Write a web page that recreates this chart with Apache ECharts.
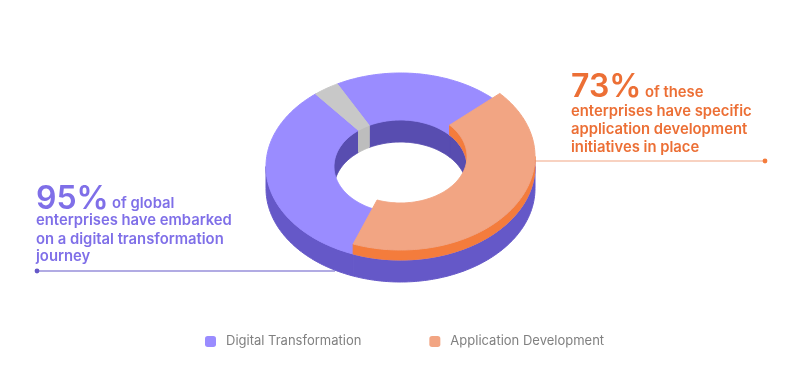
<!DOCTYPE html>
<html>
<head>
<meta charset="utf-8">
<script src="https://cdn.jsdelivr.net/npm/echarts@6/dist/echarts.min.js"></script>
<style>
    html, body { margin: 0; padding: 0; background: #fff; }
    #chart { width: 801px; height: 371px; }
</style>
</head>
<body>
<div id="chart"></div>
<script>
    // share of the ring as drawn, clockwise from the top right corner of the orange slice
    const sliceNames = ['Application Development', 'Digital Transformation', 'Other', 'Digital Transformation'];
    const sliceValues = [42.5, 33.4, 3.1, 21];
    const legendNames = ['Digital Transformation', 'Application Development'];
    const leftStat = '95%';
    const leftLines = ['of global', 'enterprises have embarked', 'on a digital transformation', 'journey'];
    const rightStat = '73%';
    const rightLines = ['of these', 'enterprises have specific', 'application development', 'initiatives in place'];

    const START = -42.4;
    const cx = 400.5, cy = 166.5;
    const RX = 134.5, RY = 93.5, rx = 66.5, ry = 46.5;
    const DEPTH = 22, LIFT = 10;
    const FONT = 'Inter';

    const purple = '#9a8cff', purpleSide = '#6558c8', purpleWall = '#584db0';
    const grey = '#c8c8c8', greyWall = '#bdbdbd';
    const orange = '#f2a583', orangeSide = '#f47c3c';
    const purpleText = '#7f6fe8', orangeText = '#ec6f35';

    function sliceRange(i) {
        let a = START;
        for (let k = 0; k < i; k++) a += sliceValues[k] * 3.6;
        return [a, a + sliceValues[i] * 3.6];
    }

    function arc(a, b, w, h, y0) {
        let pts = [];
        let n = Math.max(2, Math.ceil(Math.abs(b - a)));
        for (let i = 0; i <= n; i++) {
            let t = (a + (b - a) * i / n) * Math.PI / 180;
            pts.push([cx + w * Math.cos(t), y0 + h * Math.sin(t)]);
        }
        return pts;
    }

    function poly(points, color, z2) {
        return {
            type: 'polygon',
            z2: z2,
            shape: {points: points},
            style: {fill: color, stroke: color, lineWidth: 1}
        };
    }

    function band(a, b, w, h, y0, height, color, z2) {
        let upper = arc(a, b, w, h, y0);
        let lower = arc(b, a, w, h, y0 + height);
        return poly(upper.concat(lower), color, z2);
    }

    function topFace(a, b, y0, color, z2) {
        return poly(arc(a, b, RX, RY, y0).concat(arc(b, a, rx, ry, y0)), color, z2);
    }

    // parts of [a, b] that lie inside one of the given angle windows
    function overlaps(a, b, windows) {
        let out = [];
        windows.forEach((w) => {
            let lo = Math.max(a, w[0]), hi = Math.min(b, w[1]);
            if (hi > lo) out.push([lo, hi]);
        });
        return out;
    }
    const FRONT = [[0, 180]];
    const BACK = [[-180, 0], [180, 360]];

    function renderBase(params) {
        let i = params.dataIndex;
        let r = sliceRange(i);
        let isGrey = sliceNames[i] === 'Other';
        let children = [];
        overlaps(r[0], r[1], FRONT).forEach((o) => {
            children.push(band(o[0], o[1], RX, RY, cy, DEPTH, purpleSide, 1));
        });
        overlaps(r[0], r[1], BACK).forEach((o) => {
            children.push(band(o[0], o[1], rx, ry, cy, DEPTH, isGrey ? greyWall : purpleWall, isGrey ? 3 : 2));
        });
        children.push(topFace(r[0], r[1], cy, isGrey ? grey : purple, isGrey ? 5 : 4));
        return {type: 'group', children: children};
    }

    function renderRaised() {
        let r = sliceRange(0);
        let y0 = cy - LIFT;
        let children = [];
        overlaps(r[0], r[1], FRONT).forEach((o) => {
            children.push(band(o[0], o[1], RX, RY, y0, LIFT, orangeSide, 6));
        });
        overlaps(r[0], r[1], BACK).forEach((o) => {
            children.push(band(o[0], o[1], rx, ry, y0, LIFT, orangeSide, 6));
        });
        children.push(topFace(r[0], r[1], y0, orange, 7));
        return {type: 'group', children: children};
    }

    function textEl(str, x, baseline, size, color) {
        return {
            type: 'text',
            x: x,
            y: baseline - size * 0.36,
            style: {
                text: str,
                fill: color,
                font: '600 ' + size + 'px ' + FONT,
                verticalAlign: 'middle'
            }
        };
    }

    function callout(stat, lines, x, statBase, firstX, bases, color) {
        let els = [textEl(stat, x, statBase, 32, color)];
        lines.forEach((line, i) => {
            els.push(textEl(line, i === 0 ? firstX : x, bases[i], 14.8, color));
        });
        return els;
    }

    function leader(x1, x2, y, lineColor, dotX, dotColor) {
        return [
            {type: 'line', shape: {x1: x1, y1: y, x2: x2, y2: y}, style: {stroke: lineColor, lineWidth: 1.2}},
            {type: 'circle', shape: {cx: dotX, cy: y, r: 2.4}, style: {fill: dotColor}}
        ];
    }

    let myChart = echarts.init(document.getElementById('chart'));
    let option = {
        backgroundColor: '#fff',
        animation: false,
        legend: {
            left: 200,
            top: 330,
            itemWidth: 11,
            itemHeight: 11,
            itemGap: 68,
            selectedMode: false,
            data: legendNames,
            textStyle: {fontFamily: FONT, fontSize: 13, color: '#808080', padding: [0, 0, 0, 5]}
        },
        graphic: {
            elements: [].concat(
                callout(leftStat, leftLines, 36, 211, 112, [209, 226, 245, 262], purpleText),
                callout(rightStat, rightLines, 571, 99, 645, [98, 117, 135, 153], orangeText),
                leader(37, 335, 271, purpleSide, 37, purpleSide),
                leader(535, 765, 161, '#f2a583', 765, orangeSide)
            )
        },
        series: [
            {
                name: 'Digital Transformation',
                type: 'custom',
                coordinateSystem: 'none',
                silent: true,
                itemStyle: {color: purple},
                renderItem: renderBase,
                data: sliceValues
            },
            {
                name: 'Application Development',
                type: 'custom',
                coordinateSystem: 'none',
                silent: true,
                itemStyle: {color: orange},
                renderItem: renderRaised,
                data: sliceValues.slice(0, 1)
            }
        ]
    };
    myChart.setOption(option);
</script>
</body>
</html>
